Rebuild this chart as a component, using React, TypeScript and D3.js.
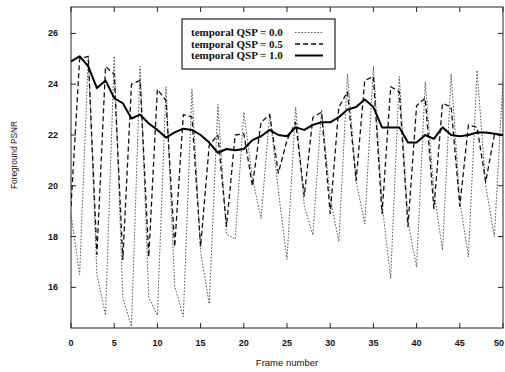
import React from 'react'
import * as d3 from 'd3'

// frame numbers 0..50
const frames = d3.range(0, 51)

// temporal QSP = 0.0 (fine dotted)
const qsp00 = [
  18.9, 16.5, 25.1, 16.5, 14.9, 25.1, 15.6, 14.45, 24.7, 15.6,
  14.9, 23.9, 16.05, 14.85, 23.8, 17.4, 15.35, 23.2, 18.1, 17.9,
  22.9, 20.3, 18.7, 22.85, 19.8, 17.1, 23.1, 19.2, 18.06, 23.0,
  19.5, 17.8, 24.4, 20.2, 18.5, 24.7, 19.3, 16.35, 24.3, 18.6,
  16.8, 24.1, 19.8, 17.47, 24.4, 19.4, 17.2, 24.55, 20.0, 18.0, 24.2,
]

// temporal QSP = 0.5 (dashed)
const qsp05 = [
  19.2, 25.0, 25.1, 17.3, 24.7, 24.4, 17.1, 24.0, 24.15, 17.2,
  23.8, 23.35, 17.6, 22.8, 22.7, 17.6, 21.6, 22.0, 18.4, 22.0,
  22.05, 20.0, 22.5, 22.8, 20.5, 21.8, 22.5, 19.6, 22.7, 22.9,
  18.9, 23.1, 23.7, 20.2, 24.15, 24.3, 18.9, 23.9, 23.7, 18.4,
  23.15, 23.45, 19.1, 23.25, 23.1, 19.2, 22.4, 22.3, 20.15, 22.0, 22.0,
]

// temporal QSP = 1.0 (solid)
const qsp10 = [
  24.9, 25.1, 24.7, 23.85, 24.15, 23.45, 23.25, 22.65, 22.8, 22.45,
  22.2, 21.9, 22.1, 22.25, 22.2, 22.0, 21.7, 21.3, 21.45, 21.4,
  21.45, 21.8, 21.95, 22.2, 22.0, 21.95, 22.3, 22.2, 22.4, 22.5,
  22.5, 22.7, 23.0, 23.1, 23.4, 23.1, 22.3, 22.3, 22.3, 21.7,
  21.7, 22.0, 21.85, 22.3, 22.0, 21.95, 22.0, 22.1, 22.1, 22.05, 22.0,
]

const xTicks = [0, 5, 10, 15, 20, 25, 30, 35, 40, 45, 50]
const yTicks = [16, 18, 20, 22, 24, 26]
const legendLabels = ['temporal QSP = 0.0', 'temporal QSP = 0.5', 'temporal QSP = 1.0']

const W = 505
const H = 372
const left = 71, right = 503, top = 7, bottom = 328

const styles = [
  { dash: '1.6,1.6', width: 0.9, color: '#444' },
  { dash: '5,3', width: 1.3, color: '#111' },
  { dash: null, width: 2, color: '#000' },
]

export default function App() {
  const x = d3.scaleLinear().domain([0, 50]).range([left, right])
  const y = d3.scaleLinear().domain([14.4, 27.04]).range([bottom, top])
  const series = [qsp00, qsp05, qsp10]
  const line = d3.line<number>().x((_, i) => x(frames[i])).y(d => y(d))
  const tick = 5

  return (
    <div style={{ position: 'absolute', left: 0, top: 0 }}>
      <svg width={W} height={H} style={{ display: 'block', background: '#fff' }}>
        <defs>
          <clipPath id="plot">
            <rect x={left} y={top} width={right - left} height={bottom - top} />
          </clipPath>
        </defs>

        {/* frame */}
        <rect x={left} y={top} width={right - left} height={bottom - top}
          fill="none" stroke="#222" strokeWidth={1} />

        {/* ticks on all four sides */}
        {xTicks.map(t => (
          <g key={'xt' + t}>
            <line x1={x(t)} x2={x(t)} y1={bottom} y2={bottom - tick} stroke="#222" />
            <line x1={x(t)} x2={x(t)} y1={top} y2={top + tick} stroke="#222" />
            <text x={Math.min(x(t), W - 6)} y={bottom + 18} textAnchor="middle"
              fontFamily="Liberation Sans, Arial, sans-serif"
              fontSize={9} fontWeight="bold" fill="#111">{t}</text>
          </g>
        ))}
        {yTicks.map(t => (
          <g key={'yt' + t}>
            <line x1={left} x2={left + tick} y1={y(t)} y2={y(t)} stroke="#222" />
            <line x1={right} x2={right - tick} y1={y(t)} y2={y(t)} stroke="#222" />
            <text x={58} y={y(t) + 3} textAnchor="end" fontFamily="Liberation Sans, Arial, sans-serif"
              fontSize={9} fontWeight="bold" fill="#111">{t}</text>
          </g>
        ))}

        {/* series */}
        <g clipPath="url(#plot)">
          {series.map((s, i) => (
            <path key={i} d={line(s) || ''} fill="none" stroke={styles[i].color}
              strokeWidth={styles[i].width} strokeDasharray={styles[i].dash || undefined}
              strokeLinejoin="round" />
          ))}
        </g>

        {/* legend */}
        <g>
          <rect x={182} y={19} width={153} height={50} fill="#fff" stroke="#222" strokeWidth={1.2} />
          {legendLabels.map((lab, i) => (
            <g key={lab}>
              <text x={191} y={36 + i * 11.5} fontFamily="Liberation Serif, Times New Roman, serif"
                fontSize={11} fontWeight="bold" fill="#111">{lab}</text>
              <line x1={295} x2={323} y1={32.5 + i * 11.5} y2={32.5 + i * 11.5}
                stroke={styles[i].color} strokeWidth={styles[i].width}
                strokeDasharray={styles[i].dash || undefined} />
            </g>
          ))}
        </g>

        {/* axis titles */}
        <text x={287} y={366} textAnchor="middle" fontFamily="Liberation Sans, Arial, sans-serif"
          fontSize={9.5} fill="#111">Frame number</text>
        <text transform={`translate(17,${155}) rotate(-90)`} textAnchor="middle"
          fontFamily="Liberation Sans, Arial, sans-serif" fontSize={9.5} fill="#111"
          textLength={68} lengthAdjust="spacingAndGlyphs">Foreground PSNR</text>
      </svg>
    </div>
  )
}
